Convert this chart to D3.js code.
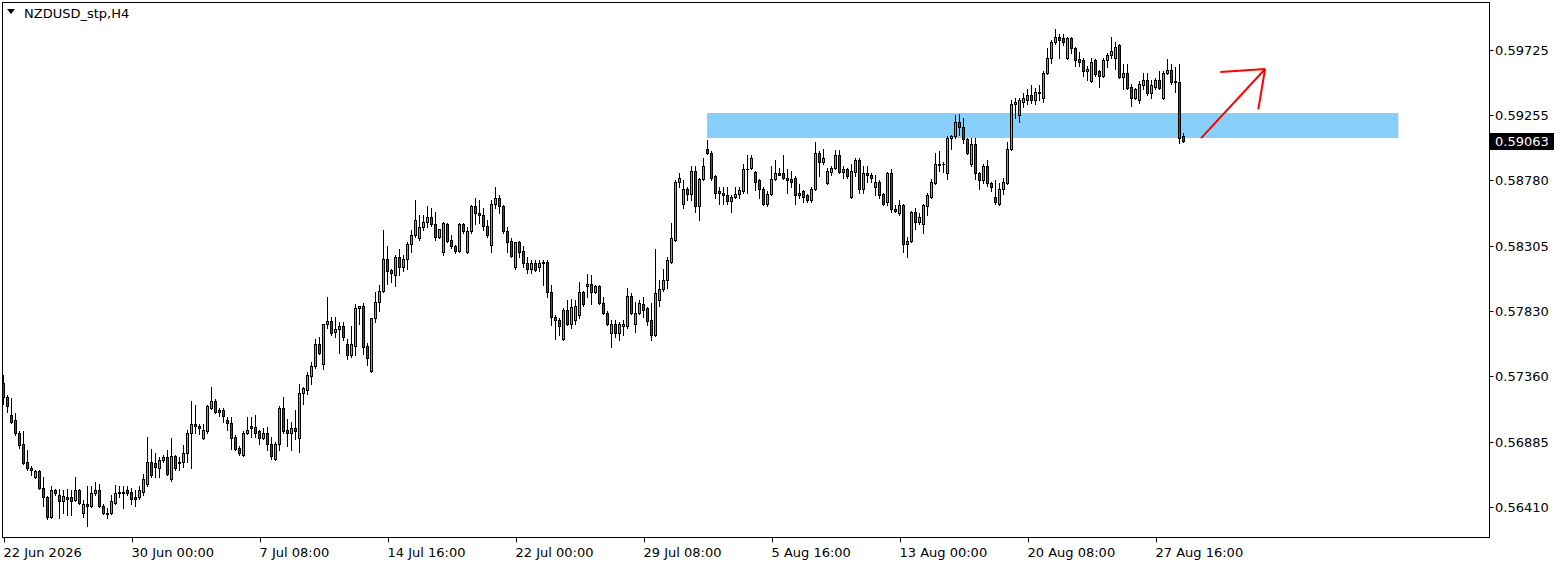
<!DOCTYPE html>
<html><head><meta charset="utf-8">
<script src="https://cdn.jsdelivr.net/npm/d3@7"></script>
<style>html,body{margin:0;padding:0;background:#fff;overflow:hidden}svg{display:block}</style>
</head><body>
<script>
const open=[0.5731,0.5721,0.5708,0.5704,0.5695,0.5687,0.5674,0.5669,0.5663,0.5667,
0.5655,0.5648,0.5634,0.5653,0.5650,0.5645,0.5648,0.5648,0.5646,0.5653,
0.5637,0.5643,0.5642,0.5651,0.5653,0.5642,0.5637,0.5637,0.5644,0.5651,
0.5652,0.5653,0.5652,0.5648,0.5648,0.5652,0.5658,0.5674,0.5673,0.5669,
0.5675,0.5677,0.5661,0.5678,0.5674,0.5674,0.5680,0.5695,0.5701,0.5700,
0.5691,0.5696,0.5713,0.5718,0.5711,0.5711,0.5704,0.5702,0.5692,0.5684,
0.5679,0.5695,0.5700,0.5699,0.5696,0.5691,0.5695,0.5687,0.5676,0.5687,
0.5713,0.5697,0.5695,0.5698,0.5691,0.5724,0.5726,0.5736,0.5743,0.5759,
0.5745,0.5774,0.5776,0.5768,0.5770,0.5772,0.5759,0.5751,0.5758,0.5785,
0.5787,0.5758,0.5740,0.5778,0.5790,0.5798,0.5821,0.5813,0.5809,0.5822,
0.5815,0.5821,0.5832,0.5838,0.5836,0.5844,0.5848,0.5851,0.5846,0.5837,
0.5826,0.5846,0.5835,0.5830,0.5827,0.5846,0.5826,0.5841,0.5859,0.5854,
0.5853,0.5845,0.5831,0.5861,0.5865,0.5859,0.5841,0.5834,0.5815,0.5833,
0.5827,0.5818,0.5814,0.5818,0.5815,0.5819,0.5819,0.5797,0.5779,0.5777,
0.5763,0.5784,0.5774,0.5777,0.5780,0.5797,0.5801,0.5803,0.5797,0.5801,
0.5789,0.5782,0.5767,0.5774,0.5767,0.5772,0.5772,0.5794,0.5774,0.5782,
0.5788,0.5785,0.5777,0.5766,0.5791,0.5799,0.5806,0.5819,0.5835,0.5877,
0.5861,0.5872,0.5868,0.5885,0.5859,0.5879,0.5901,0.5898,0.5881,0.5870,
0.5869,0.5867,0.5863,0.5866,0.5868,0.5870,0.5886,0.5887,0.5884,0.5878,
0.5872,0.5861,0.5868,0.5879,0.5883,0.5883,0.5880,0.5879,0.5880,0.5867,
0.5870,0.5867,0.5864,0.5872,0.5898,0.5891,0.5876,0.5884,0.5887,0.5896,
0.5884,0.5886,0.5866,0.5884,0.5893,0.5872,0.5883,0.5882,0.5873,0.5877,
0.5868,0.5862,0.5883,0.5857,0.5854,0.5860,0.5832,0.5834,0.5855,0.5848,
0.5846,0.5859,0.5866,0.5876,0.5890,0.5890,0.5883,0.5909,0.5910,0.5920,
0.5917,0.5908,0.5890,0.5904,0.5883,0.5878,0.5888,0.5876,0.5866,0.5861,
0.5872,0.5876,0.5901,0.5933,0.5925,0.5935,0.5936,0.5940,0.5936,0.5941,
0.5938,0.5956,0.5967,0.5978,0.5982,0.5981,0.5967,0.5981,0.5974,0.5966,
0.5965,0.5957,0.5950,0.5965,0.5957,0.5954,0.5965,0.5969,0.5967,0.5976,
0.5953,0.5956,0.5946,0.5938,0.5936,0.5947,0.5951,0.5941,0.5946,0.5951,
0.5938,0.5956,0.5958,0.5950,0.5949,0.5910];
const high=[0.5737,0.5722,0.5720,0.5709,0.5696,0.5696,0.5682,0.5671,0.5668,0.5668,
0.5663,0.5649,0.5656,0.5654,0.5654,0.5653,0.5654,0.5653,0.5663,0.5654,
0.5646,0.5656,0.5656,0.5659,0.5658,0.5643,0.5640,0.5650,0.5657,0.5656,
0.5656,0.5656,0.5655,0.5653,0.5656,0.5665,0.5692,0.5683,0.5680,0.5677,
0.5679,0.5682,0.5691,0.5679,0.5677,0.5686,0.5697,0.5718,0.5715,0.5701,
0.5701,0.5715,0.5728,0.5719,0.5713,0.5713,0.5706,0.5706,0.5693,0.5685,
0.5696,0.5706,0.5706,0.5708,0.5697,0.5698,0.5699,0.5692,0.5688,0.5714,
0.5721,0.5705,0.5703,0.5711,0.5730,0.5728,0.5739,0.5746,0.5763,0.5764,
0.5774,0.5793,0.5779,0.5779,0.5775,0.5775,0.5763,0.5772,0.5788,0.5787,
0.5789,0.5760,0.5778,0.5797,0.5802,0.5842,0.5830,0.5814,0.5824,0.5828,
0.5824,0.5833,0.5842,0.5864,0.5853,0.5853,0.5859,0.5858,0.5855,0.5843,
0.5848,0.5847,0.5838,0.5831,0.5847,0.5847,0.5844,0.5860,0.5865,0.5864,
0.5858,0.5849,0.5864,0.5873,0.5867,0.5860,0.5844,0.5836,0.5833,0.5834,
0.5830,0.5822,0.5820,0.5820,0.5820,0.5820,0.5820,0.5802,0.5780,0.5778,
0.5785,0.5791,0.5792,0.5791,0.5804,0.5798,0.5810,0.5809,0.5802,0.5802,
0.5793,0.5783,0.5777,0.5777,0.5775,0.5777,0.5800,0.5796,0.5790,0.5791,
0.5793,0.5786,0.5789,0.5828,0.5806,0.5814,0.5822,0.5847,0.5878,0.5883,
0.5878,0.5873,0.5888,0.5888,0.5880,0.5894,0.5907,0.5899,0.5882,0.5873,
0.5873,0.5873,0.5867,0.5873,0.5873,0.5890,0.5896,0.5896,0.5885,0.5879,
0.5873,0.5870,0.5888,0.5893,0.5887,0.5896,0.5886,0.5885,0.5881,0.5875,
0.5871,0.5868,0.5873,0.5906,0.5899,0.5901,0.5887,0.5888,0.5900,0.5900,
0.5888,0.5887,0.5890,0.5894,0.5894,0.5888,0.5888,0.5883,0.5882,0.5878,
0.5869,0.5884,0.5886,0.5860,0.5864,0.5861,0.5837,0.5856,0.5858,0.5854,
0.5861,0.5869,0.5879,0.5898,0.5899,0.5891,0.5910,0.5911,0.5925,0.5926,
0.5923,0.5909,0.5909,0.5909,0.5884,0.5890,0.5893,0.5877,0.5878,0.5876,
0.5880,0.5906,0.5936,0.5938,0.5938,0.5941,0.5944,0.5947,0.5945,0.5947,
0.5957,0.5974,0.5980,0.5988,0.5984,0.5984,0.5982,0.5982,0.5975,0.5971,
0.5967,0.5961,0.5967,0.5966,0.5958,0.5967,0.5970,0.5982,0.5978,0.5977,
0.5962,0.5962,0.5948,0.5945,0.5950,0.5956,0.5956,0.5951,0.5952,0.5957,
0.5957,0.5966,0.5962,0.5960,0.5962,0.5912];
const low=[0.5716,0.5710,0.5702,0.5693,0.5684,0.5672,0.5668,0.5664,0.5662,0.5654,
0.5642,0.5632,0.5633,0.5650,0.5633,0.5637,0.5635,0.5635,0.5645,0.5643,
0.5634,0.5627,0.5641,0.5650,0.5641,0.5636,0.5633,0.5636,0.5643,0.5648,
0.5640,0.5650,0.5643,0.5642,0.5647,0.5650,0.5656,0.5663,0.5663,0.5663,
0.5674,0.5664,0.5660,0.5668,0.5668,0.5670,0.5674,0.5669,0.5695,0.5694,
0.5690,0.5695,0.5712,0.5709,0.5707,0.5703,0.5697,0.5683,0.5682,0.5679,
0.5678,0.5694,0.5692,0.5692,0.5687,0.5690,0.5682,0.5676,0.5675,0.5682,
0.5695,0.5685,0.5682,0.5690,0.5681,0.5716,0.5723,0.5730,0.5742,0.5752,
0.5741,0.5771,0.5766,0.5764,0.5753,0.5762,0.5748,0.5750,0.5751,0.5774,
0.5752,0.5744,0.5739,0.5775,0.5783,0.5797,0.5803,0.5804,0.5801,0.5809,
0.5812,0.5814,0.5826,0.5837,0.5835,0.5842,0.5844,0.5845,0.5835,0.5836,
0.5824,0.5833,0.5829,0.5825,0.5826,0.5840,0.5825,0.5840,0.5846,0.5847,
0.5842,0.5837,0.5826,0.5858,0.5854,0.5840,0.5826,0.5822,0.5814,0.5822,
0.5815,0.5811,0.5811,0.5812,0.5812,0.5802,0.5793,0.5773,0.5763,0.5766,
0.5762,0.5773,0.5771,0.5774,0.5778,0.5787,0.5793,0.5788,0.5796,0.5788,
0.5781,0.5773,0.5757,0.5764,0.5762,0.5766,0.5771,0.5781,0.5768,0.5781,
0.5779,0.5773,0.5762,0.5765,0.5787,0.5798,0.5800,0.5818,0.5834,0.5873,
0.5858,0.5864,0.5864,0.5855,0.5849,0.5878,0.5897,0.5878,0.5865,0.5861,
0.5861,0.5861,0.5855,0.5865,0.5865,0.5869,0.5869,0.5886,0.5871,0.5865,
0.5860,0.5859,0.5867,0.5878,0.5882,0.5879,0.5869,0.5873,0.5861,0.5865,
0.5862,0.5862,0.5862,0.5871,0.5881,0.5890,0.5875,0.5882,0.5886,0.5883,
0.5880,0.5880,0.5865,0.5881,0.5869,0.5869,0.5877,0.5877,0.5867,0.5865,
0.5860,0.5860,0.5855,0.5855,0.5853,0.5826,0.5822,0.5833,0.5843,0.5846,
0.5840,0.5853,0.5865,0.5875,0.5885,0.5884,0.5879,0.5901,0.5909,0.5911,
0.5905,0.5897,0.5888,0.5879,0.5872,0.5876,0.5874,0.5870,0.5861,0.5860,
0.5868,0.5875,0.5900,0.5923,0.5920,0.5931,0.5933,0.5934,0.5933,0.5936,
0.5935,0.5955,0.5963,0.5977,0.5967,0.5976,0.5966,0.5970,0.5961,0.5961,
0.5954,0.5951,0.5949,0.5954,0.5946,0.5953,0.5960,0.5967,0.5959,0.5952,
0.5944,0.5944,0.5932,0.5937,0.5934,0.5944,0.5940,0.5938,0.5944,0.5944,
0.5937,0.5955,0.5948,0.5942,0.5905,0.59058];
const close=[0.5721,0.5714,0.5703,0.5695,0.5686,0.5673,0.5669,0.5668,0.5667,0.5655,
0.5648,0.5634,0.5653,0.5651,0.5645,0.5649,0.5647,0.5645,0.5653,0.5644,
0.5643,0.5642,0.5651,0.5653,0.5642,0.5637,0.5636,0.5645,0.5651,0.5652,
0.5651,0.5651,0.5647,0.5647,0.5653,0.5661,0.5674,0.5664,0.5670,0.5675,
0.5677,0.5665,0.5678,0.5669,0.5673,0.5680,0.5695,0.5701,0.5700,0.5698,
0.5697,0.5714,0.5718,0.5710,0.5710,0.5707,0.5702,0.5691,0.5683,0.5680,
0.5695,0.5697,0.5698,0.5695,0.5691,0.5695,0.5687,0.5678,0.5687,0.5713,
0.5696,0.5695,0.5698,0.5696,0.5724,0.5727,0.5737,0.5743,0.5759,0.5753,
0.5774,0.5776,0.5767,0.5770,0.5772,0.5764,0.5751,0.5759,0.5785,0.5787,
0.5757,0.5749,0.5778,0.5790,0.5798,0.5821,0.5812,0.5811,0.5822,0.5815,
0.5821,0.5832,0.5838,0.5849,0.5844,0.5848,0.5851,0.5846,0.5837,0.5843,
0.5847,0.5834,0.5830,0.5827,0.5846,0.5841,0.5841,0.5859,0.5854,0.5853,
0.5845,0.5838,0.5861,0.5865,0.5859,0.5841,0.5833,0.5823,0.5833,0.5826,
0.5818,0.5814,0.5818,0.5813,0.5818,0.5818,0.5797,0.5779,0.5777,0.5772,
0.5784,0.5774,0.5786,0.5787,0.5797,0.5788,0.5803,0.5797,0.5801,0.5789,
0.5782,0.5774,0.5774,0.5767,0.5774,0.5774,0.5794,0.5782,0.5782,0.5789,
0.5784,0.5776,0.5766,0.5796,0.5799,0.5806,0.5820,0.5836,0.5877,0.5880,
0.5872,0.5868,0.5885,0.5859,0.5879,0.5888,0.5898,0.5880,0.5869,0.5869,
0.5867,0.5863,0.5866,0.5868,0.5871,0.5886,0.5886,0.5894,0.5877,0.5872,
0.5861,0.5868,0.5879,0.5883,0.5882,0.5880,0.5878,0.5877,0.5867,0.5869,
0.5866,0.5864,0.5872,0.5898,0.5891,0.5894,0.5885,0.5887,0.5896,0.5884,
0.5886,0.5881,0.5885,0.5893,0.5872,0.5883,0.5882,0.5880,0.5877,0.5867,
0.5861,0.5883,0.5857,0.5856,0.5860,0.5832,0.5834,0.5855,0.5848,0.5851,
0.5860,0.5867,0.5877,0.5890,0.5889,0.5890,0.5909,0.5910,0.5920,0.5917,
0.5908,0.5898,0.5904,0.5883,0.5878,0.5888,0.5876,0.5873,0.5862,0.5872,
0.5877,0.5901,0.5933,0.5935,0.5936,0.5938,0.5940,0.5936,0.5942,0.5942,
0.5956,0.5967,0.5978,0.5982,0.5980,0.5978,0.5981,0.5974,0.5965,0.5964,
0.5957,0.5959,0.5964,0.5955,0.5954,0.5965,0.5969,0.5972,0.5975,0.5953,
0.5956,0.5945,0.5938,0.5944,0.5948,0.5951,0.5941,0.5947,0.5951,0.5945,
0.5956,0.5958,0.5949,0.5949,0.5909,0.59063];

const priceTicks=[0.59725,0.59255,0.58780,0.58305,0.57830,0.57360,0.56885,0.56410];
const timeLabelBars=[0,32,64,96,128,160,192,224,256,288];
const timeLabels=["22 Jun 2026","30 Jun 00:00","7 Jul 08:00","14 Jul 16:00","22 Jul 00:00","29 Jul 08:00","5 Aug 16:00","13 Aug 00:00","20 Aug 08:00","27 Aug 16:00"];
const symbolTitle="NZDUSD_stp,H4";
const lastPrice=0.59063;
const zonePrices=[0.59268,0.59087];
const zoneBars=[175.9,348.7];
const arrowShaft=[[299.4,0.59086],[315.4,0.59587]];
const arrowBarbs=[[[304.2,0.59565],[315.4,0.59587]],[[315.4,0.59587],[313.7,0.59294]]];

const W=1561,H=566;
const svg=d3.select("body").append("svg").attr("width",W).attr("height",H);
svg.append("rect").attr("width",W).attr("height",H).attr("fill","#fff");

const x=d3.scaleLinear().domain([0,open.length-1]).range([3.5,3.5+4*(open.length-1)]);
const y=d3.scaleLinear().domain([0.56410,0.59725]).range([507,50]);

const plotL=2.5,plotT=2.5,plotR=1489.5,plotB=537.5;
svg.append("clipPath").attr("id","plot").append("rect").attr("x",3).attr("y",3).attr("width",plotR-3).attr("height",plotB-3);
const g=svg.append("g").attr("clip-path","url(#plot)");

// zone
g.append("rect")
 .attr("x",x(zoneBars[0])).attr("width",x(zoneBars[1])-x(zoneBars[0]))
 .attr("y",y(zonePrices[0])).attr("height",y(zonePrices[1])-y(zonePrices[0]))
 .attr("fill","#87cefa");

const data=open.map((o,i)=>({i,o,h:high[i],l:low[i],c:close[i]}));
const px=v=>Math.round(v);
g.selectAll("line.w").data(data).join("line")
 .attr("x1",d=>x(d.i)).attr("x2",d=>x(d.i))
 .attr("y1",d=>px(y(Math.max(d.h,d.o,d.c)))).attr("y2",d=>px(y(Math.min(d.l,d.o,d.c)))+1)
 .attr("stroke","#000").attr("stroke-width",1);
data.forEach(d=>{
  const t=px(y(Math.max(d.o,d.c))), b=px(y(Math.min(d.o,d.c)));
  const hgt=Math.max(1,b-t+1);
  g.append("rect").attr("x",x(d.i)-1.5).attr("y",t).attr("width",3).attr("height",hgt).attr("fill","#000");
  if(hgt>2){
    g.append("rect").attr("x",x(d.i)-0.5).attr("y",t+1).attr("width",1).attr("height",hgt-2)
     .attr("fill",d.c>=d.o?"#00ff00":"#ff0000");
  }
});

const line=d3.line().x(d=>x(d[0])).y(d=>y(d[1]));
g.append("path").attr("d",line(arrowShaft)).attr("stroke","#ff0000").attr("stroke-width",2).attr("fill","none");
arrowBarbs.forEach(b=>g.append("path").attr("d",line(b)).attr("stroke","#ff0000").attr("stroke-width",2).attr("fill","none"));

svg.append("rect").attr("x",plotL).attr("y",plotT).attr("width",plotR-plotL).attr("height",plotB-plotT)
 .attr("fill","none").attr("stroke","#000").attr("stroke-width",1);

const fontAx="Tahoma, 'DejaVu Sans', Verdana, sans-serif";
priceTicks.forEach(p=>{
  const yy=Math.round(y(p))+0.5;
  svg.append("line").attr("x1",plotR).attr("x2",plotR+4).attr("y1",yy).attr("y2",yy).attr("stroke","#000");
  svg.append("text").attr("x",1495).attr("y",yy).attr("dy","0.36em").attr("font-family",fontAx).attr("font-size",13)
   .attr("fill","#000").text(p.toFixed(5));
});
const ly=Math.round(y(lastPrice));
svg.append("rect").attr("x",1490).attr("y",ly-8).attr("width",64).attr("height",17).attr("fill","#000");
svg.append("text").attr("x",1495).attr("y",ly+0.5).attr("dy","0.36em").attr("font-family",fontAx).attr("font-size",13)
 .attr("fill","#fff").text(lastPrice.toFixed(5));

timeLabelBars.forEach((b,k)=>{
  const xx=Math.round(x(b))+0.5;
  svg.append("line").attr("x1",xx).attr("x2",xx).attr("y1",plotB).attr("y2",plotB+5).attr("stroke","#000");
  svg.append("text").attr("x",xx-1).attr("y",557).attr("font-family",fontAx).attr("font-size",13)
   .attr("fill","#000").text(timeLabels[k]);
});

svg.append("path").attr("d","M7,9 L15,9 L11,14 Z").attr("fill","#000");
svg.append("text").attr("x",24).attr("y",18).attr("font-family",fontAx).attr("font-size",13).attr("fill","#000").text(symbolTitle);
</script>
</body></html>
